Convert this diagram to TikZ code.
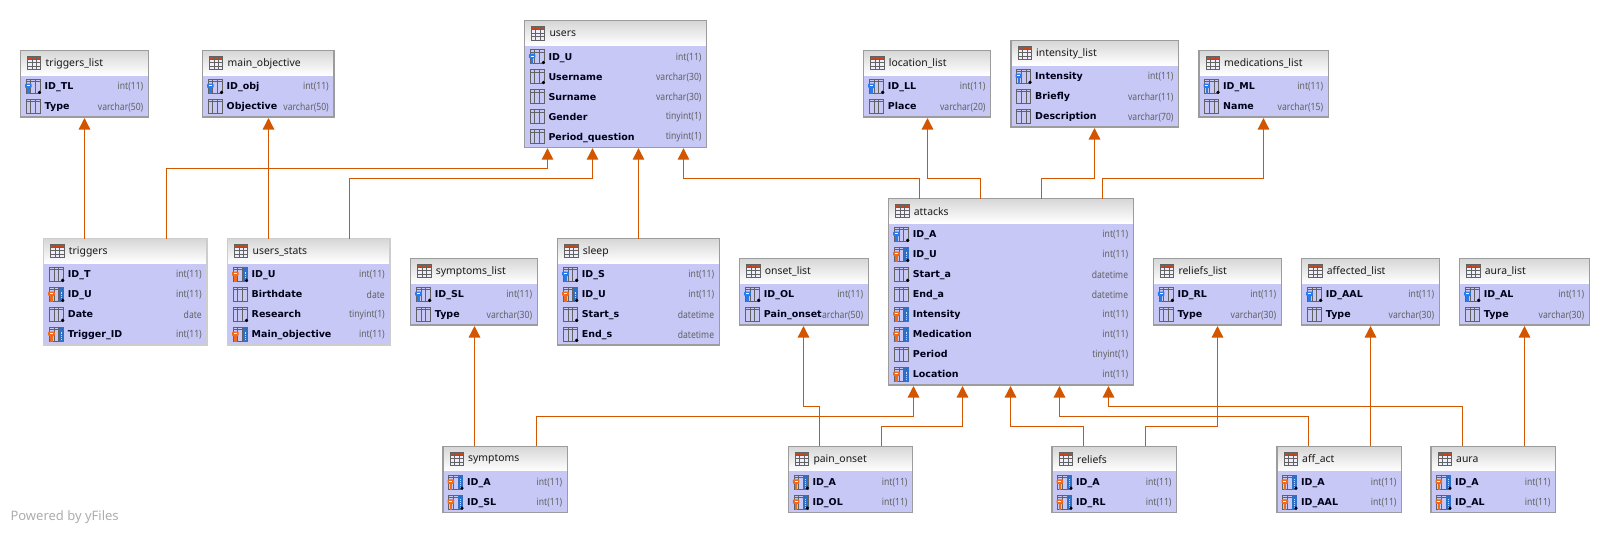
\documentclass[tikz,border=0pt]{standalone}
\usepackage{fontspec}
\usetikzlibrary{arrows.meta,calc}
\newfontfamily\titlefont{Noto Sans}
\newfontfamily\typefont[FakeStretch=0.86]{Noto Sans}
\newfontfamily\namefont{DejaVu Sans}

\definecolor{rowfill}{HTML}{C7C8F5}
\definecolor{headtop}{HTML}{D6D6D6}
\definecolor{edgegray}{HTML}{9C9C9C}
\definecolor{edgelight}{HTML}{CDCDCD}
\definecolor{linkcol}{HTML}{D25600}
\definecolor{icongray}{HTML}{626262}
\definecolor{keyblue}{HTML}{2A7BE8}
\definecolor{keyorange}{HTML}{EE6A1C}
\definecolor{colblue}{HTML}{2F6FC4}
\definecolor{headred}{HTML}{C8481C}

\tikzset{
  tablebody/.style={draw=edgegray, line width=1.3pt, fill=rowfill, inner sep=0pt, outer sep=0pt, anchor=north west},
  lightedge/.style={draw=edgelight},
  tableedge/.style={draw=edgegray, line width=1.3pt},
  rowsep/.style={draw=edgegray!85!black, line width=1pt},
  tabletitle/.style={anchor=west, inner sep=0pt, text=black!90, font=\titlefont\fontsize{10.4}{13}\selectfont},
  fieldname/.style={anchor=west, inner sep=0pt, fill=rowfill, text=black!90!blue, text height=7.5pt, text depth=2.5pt, font=\namefont\bfseries\fontsize{9.5}{11}\selectfont},
  fieldtype/.style={anchor=east, inner sep=0pt, text=black!62, font=\typefont\fontsize{10}{12}\selectfont},
  fklink/.style={draw=linkcol, line width=1.3pt, shorten >=1pt, -{Triangle[width=11.5pt,length=11.5pt]}},
  iconline/.style={draw=icongray, line width=.9pt}
}

% field icons, drawn round (0,0)
\newcommand{\colgrid}{
  \draw[iconline] (-7,-7) rectangle (7,7);
  \draw[iconline] (-7,-4.6) -- (7,-4.6);
  \draw[iconline] (-2.3,-7) -- (-2.3,7);
  \draw[iconline] (2.3,-7) -- (2.3,7);
}
\newcommand{\bluecol}{
  \fill[colblue] (2.3,-7.4) rectangle (7.4,7.4);
  \draw[rowfill!70!white, densely dotted, line width=.8pt] (4.8,-3) -- (4.8,6);
}
\newcommand{\fieldkey}[1]{
  \fill[#1, rounded corners=1pt] (-8.2,-3) rectangle (-1.6,1.6);
  \fill[#1] (-6.2,1) rectangle (-3.6,7.6);
  \fill[white] (-6.4,-1.2) rectangle (-3.4,-.2);
}
\newcommand{\fielddot}{\fill[black] (6.3,5.8) circle (1.8);}
\newcommand{\iconp}{\colgrid \fieldkey{keyblue} \fielddot}
\newcommand{\iconc}{\colgrid}
\newcommand{\icond}{\colgrid \fielddot}
\newcommand{\iconf}{\colgrid \bluecol \fieldkey{keyorange}}
\newcommand{\icong}{\colgrid \bluecol \fieldkey{keyorange} \fielddot}

\newcommand{\headicon}{
  \fill[rowfill!30!white] (-6.7,-6.7) rectangle (6.7,6.7);
  \fill[headred] (-6.7,-6.7) rectangle (6.7,-3.8);
  \draw[iconline] (-6.7,-6.7) rectangle (6.7,6.7);
  \foreach \yy in {-3.8,-.3,3.2} \draw[icongray, line width=.8pt] (-6.7,\yy) -- (6.7,\yy);
  \foreach \xx in {-2.2,2.2} \draw[icongray, line width=.8pt] (\xx,-6.7) -- (\xx,6.7);
}

\newcommand{\kindkey}{p}
\newcommand{\tablerows}[3][]{
  \shade[top color=headtop, bottom color=white] (#2.north west) rectangle ([yshift=-24.5pt]#2.north east);
  \draw[tableedge, #1] (#2.north west) rectangle (#2.south east);
  \begin{scope}[shift={(#2.north west)}, xshift=13.7pt, yshift=-12.6pt] \headicon \end{scope}
  \foreach \fname/\ftype/\fkind [count=\i] in {#3} {
    \pgfmathsetmacro\rowy{36+20*(\i-1)}
    \node[fieldtype] (#2-t\i) at ([xshift=-5pt, yshift=-\rowy pt-.5pt]#2.north east) {\ftype};
    \node[fieldname] (#2-n\i) at ([xshift=24pt, yshift=-\rowy pt-.8pt]#2.north west) {\fname};
    \begin{scope}[shift={(#2.north west)}, xshift=12.7pt, yshift=-\rowy pt] \csname icon\fkind\endcsname \end{scope}
    \ifx\fkind\kindkey
      \draw[rowsep] ([yshift=-46.3pt]#2.north west) -- ([yshift=-46.3pt]#2.north east);
    \fi
  }
}
% keeps a vertical line on one pixel column
\newcommand{\snapat}[2]{\path let \p1=(#2), \n1={floor(\x1)+.5} in coordinate (#1) at ({\n1*1pt},\y1);}
\newcommand{\lanelink}[5]{
  \snapat{linkstart}{$(#1.north west)!#2!(#1.north east)$}
  \snapat{linkend}{$(#4.south west)!#5!(#4.south east)$}
  \draw[fklink] (linkstart) |- (lane#3 -| linkend) -- (linkend);
}
\newcommand{\straightlink}[3]{
  \snapat{linkstart}{$(#1.north west)!#2!(#1.north east)$}
  \draw[fklink] (linkstart) -- (linkstart |- #3.south);
}

\begin{document}
\begin{tikzpicture}[x=1pt,y=-1pt]
\useasboundingbox (0,0) rectangle (1610,533);

\coordinate (lane168) at (0,168.5);
\coordinate (lane178) at (0,178.5);
\coordinate (lane406) at (0,406.5);
\coordinate (lane416) at (0,416.5);
\coordinate (lane426) at (0,426.5);

% tables: top row
\node[tablebody, minimum width=128pt, minimum height=66.5pt] (triggers_list) at (20.5,50.5) {};
\node[tablebody, minimum width=131.5pt, minimum height=66.5pt] (main_objective) at (202.5,50.5) {};
\node[tablebody, minimum width=182.4pt, minimum height=126.5pt] (users) at (524.3,20.7) {};
\node[tablebody, minimum width=127pt, minimum height=66.5pt] (location_list) at (863.7,50.5) {};
\node[tablebody, minimum width=167.7pt, minimum height=86.5pt] (intensity_list) at (1011,40.5) {};
\node[tablebody, minimum width=129.3pt, minimum height=66.5pt] (medications_list) at (1199,50.5) {};
% tables: middle row
\node[tablebody, lightedge, minimum width=163.3pt, minimum height=106.5pt] (triggers) at (43.7,238.5) {};
\node[tablebody, lightedge, minimum width=162.5pt, minimum height=106.5pt] (users_stats) at (227.5,238.5) {};
\node[tablebody, minimum width=126.6pt, minimum height=66.5pt] (symptoms_list) at (410.7,258.5) {};
\node[tablebody, minimum width=161.6pt, minimum height=106.5pt] (sleep) at (557.7,238.5) {};
\node[tablebody, minimum width=128.6pt, minimum height=66.5pt] (onset_list) at (739.7,258.5) {};
\node[tablebody, minimum width=244.6pt, minimum height=186.5pt] (attacks) at (888.7,198.5) {};
\node[tablebody, minimum width=128pt, minimum height=66.5pt] (reliefs_list) at (1153.3,258.5) {};
\node[tablebody, minimum width=137.6pt, minimum height=66.5pt] (affected_list) at (1301.7,258.5) {};
\node[tablebody, minimum width=129.6pt, minimum height=66.5pt] (aura_list) at (1459.7,258.5) {};
% tables: bottom row
\node[tablebody, minimum width=124.5pt, minimum height=66pt] (symptoms) at (443,446.3) {};
\node[tablebody, minimum width=124.4pt, minimum height=66pt] (pain_onset) at (788.3,446.3) {};
\node[tablebody, minimum width=124.7pt, minimum height=66pt] (reliefs) at (1052,446.3) {};
\node[tablebody, minimum width=124.7pt, minimum height=66pt] (aff_act) at (1277,446.3) {};
\node[tablebody, minimum width=124.7pt, minimum height=66pt] (aura) at (1431,446.3) {};

\tablerows{triggers_list}{ID\_TL/int(11)/p, Type/varchar(50)/c}
\tablerows{main_objective}{ID\_obj/int(11)/p, Objective/varchar(50)/c}
\tablerows{users}{ID\_U/int(11)/p, Username/varchar(30)/d, Surname/varchar(30)/c, Gender/tinyint(1)/c, Period\_question/tinyint(1)/c}
\tablerows{location_list}{ID\_LL/int(11)/p, Place/varchar(20)/c}
\tablerows{intensity_list}{Intensity/int(11)/p, Briefly/varchar(11)/c, Description/varchar(70)/c}
\tablerows{medications_list}{ID\_ML/int(11)/p, Name/varchar(15)/c}
\tablerows[lightedge]{triggers}{ID\_T/int(11)/d, ID\_U/int(11)/g, Date/date/d, Trigger\_ID/int(11)/f}
\tablerows[lightedge]{users_stats}{ID\_U/int(11)/g, Birthdate/date/c, Research/tinyint(1)/d, Main\_objective/int(11)/f}
\tablerows{symptoms_list}{ID\_SL/int(11)/p, Type/varchar(30)/c}
\tablerows{sleep}{ID\_S/int(11)/p, ID\_U/int(11)/g, Start\_s/datetime/d, End\_s/datetime/d}
\tablerows{onset_list}{ID\_OL/int(11)/p, Pain\_onset/varchar(50)/c}
\tablerows{attacks}{ID\_A/int(11)/p, ID\_U/int(11)/g, Start\_a/datetime/d, End\_a/datetime/c, Intensity/int(11)/f, Medication/int(11)/f, Period/tinyint(1)/c, Location/int(11)/f}
\tablerows{reliefs_list}{ID\_RL/int(11)/p, Type/varchar(30)/c}
\tablerows{affected_list}{ID\_AAL/int(11)/p, Type/varchar(30)/c}
\tablerows{aura_list}{ID\_AL/int(11)/p, Type/varchar(30)/c}
\tablerows{symptoms}{ID\_A/int(11)/g, ID\_SL/int(11)/g}
\tablerows{pain_onset}{ID\_A/int(11)/g, ID\_OL/int(11)/g}
\tablerows{reliefs}{ID\_A/int(11)/g, ID\_RL/int(11)/g}
\tablerows{aff_act}{ID\_A/int(11)/g, ID\_AAL/int(11)/g}
\tablerows{aura}{ID\_A/int(11)/g, ID\_AL/int(11)/g}

% table titles
\foreach \tname/\ttext in {triggers_list/triggers\_list, main_objective/main\_objective, users/users, location_list/location\_list, intensity_list/intensity\_list, medications_list/medications\_list, triggers/triggers, users_stats/users\_stats, symptoms_list/symptoms\_list, sleep/sleep, onset_list/onset\_list, attacks/attacks, reliefs_list/reliefs\_list, affected_list/affected\_list, aura_list/aura\_list, symptoms/symptoms, pain_onset/pain\_onset, reliefs/reliefs, aff_act/aff\_act, aura/aura}
  \node[tabletitle] (\tname-title) at ([xshift=25pt, yshift=-13.2pt]\tname.north west) {\ttext};

% links
\straightlink{triggers}{.25}{triggers_list}
\straightlink{users_stats}{.25}{main_objective}
\straightlink{sleep}{.5}{users}
\straightlink{symptoms}{.25}{symptoms_list}
\straightlink{aff_act}{.75}{affected_list}
\straightlink{aura}{.75}{aura_list}
\lanelink{triggers}{.75}{168}{users}{.125}
\lanelink{users_stats}{.75}{178}{users}{.375}
\lanelink{attacks}{.125}{178}{users}{.875}
\lanelink{attacks}{.375}{178}{location_list}{.5}
\lanelink{attacks}{.625}{178}{intensity_list}{.5}
\lanelink{attacks}{.875}{178}{medications_list}{.5}
\lanelink{symptoms}{.75}{416}{attacks}{.1}
\lanelink{pain_onset}{.25}{406}{onset_list}{.5}
\lanelink{pain_onset}{.75}{426}{attacks}{.3}
\lanelink{reliefs}{.25}{426}{attacks}{.5}
\lanelink{reliefs}{.75}{426}{reliefs_list}{.5}
\lanelink{aff_act}{.25}{416}{attacks}{.7}
\lanelink{aura}{.25}{406}{attacks}{.9}

\node[anchor=west, inner sep=0pt, text=black!32, font=\titlefont\fontsize{13}{15}\selectfont] (poweredby) at (10.3,516.7) {Powered by yFiles};

\end{tikzpicture}
\end{document}
